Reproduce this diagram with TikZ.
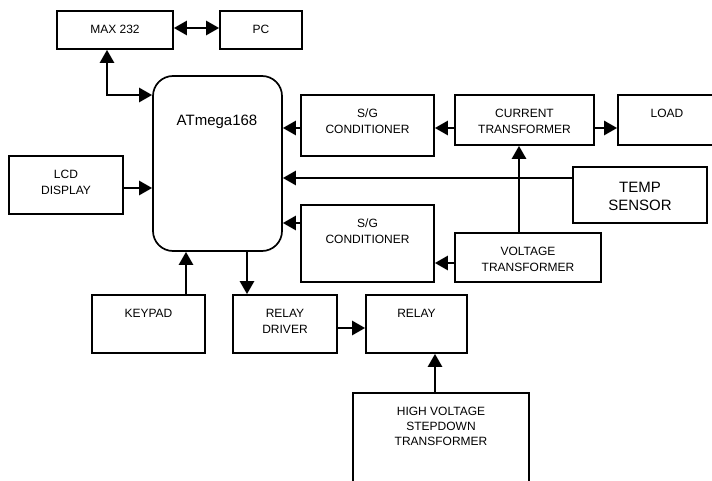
\documentclass[tikz,border=0pt]{standalone}
\usepackage{fontspec}
\setmainfont{Liberation Sans}
\usetikzlibrary{arrows.meta}
\begin{document}
\begin{tikzpicture}[x=1pt,y=-1pt,
  box/.style={draw,line width=1.7pt,minimum width=#1,inner sep=0pt},
  lbl/.style={align=center,font=\fontsize{12}{16}\selectfont,inner sep=0pt},
  big/.style={align=center,font=\fontsize{15}{18}\selectfont,inner sep=0pt},
  conn/.style={line width=2.6pt,-{Triangle[length=13pt,width=14pt]}},
  conn2/.style={line width=2.6pt,{Triangle[length=13pt,width=14pt]}-{Triangle[length=13pt,width=14pt]}}]
\useasboundingbox (0,0) rectangle (712,481);
\clip (0,0) rectangle (712,481);
% boxes
\node[box=116pt,minimum height=38pt] (max) at (115,30) {};
\node[lbl] (maxT) at (115,29) {MAX 232};
\node[box=82pt,minimum height=38pt] (pc) at (261,30) {};
\node[lbl] (pcT) at (261,29) {PC};
\node[box=129pt,minimum height=175pt,rounded corners=20pt] (at) at (217.5,163.5) {};
\node[big] (atT) at (217,122) {ATmega168};
\node[box=114pt,minimum height=58pt] (lcd) at (66,185) {};
\node[lbl] (lcdT) at (66,182.5) {LCD\\DISPLAY};
\node[box=133pt,minimum height=61pt] (sg1) at (367.5,125.5) {};
\node[lbl] (sg1T) at (367.5,121) {S/G\\CONDITIONER};
\node[box=139pt,minimum height=50pt] (ct) at (524.5,120) {};
\node[lbl] (ctT) at (524.5,121) {CURRENT\\TRANSFORMER};
\node[box=102pt,minimum height=50pt] (load) at (669,120) {};
\node[lbl] (loadT) at (667,113) {LOAD};
\node[box=134pt,minimum height=56pt] (temp) at (640,195) {};
\node[big] (tempT) at (640,196) {TEMP\\SENSOR};
\node[box=133pt,minimum height=77pt] (sg2) at (367.5,243.5) {};
\node[lbl] (sg2T) at (367.5,231) {S/G\\CONDITIONER};
\node[box=146pt,minimum height=49pt] (vt) at (528,257.5) {};
\node[lbl] (vtT) at (528,259.5) {VOLTAGE\\TRANSFORMER};
\node[box=113pt,minimum height=58pt] (key) at (148.5,324) {};
\node[lbl] (keyT) at (148.5,313) {KEYPAD};
\node[box=104pt,minimum height=58pt] (rd) at (285,324) {};
\node[lbl] (rdT) at (285,321) {RELAY\\DRIVER};
\node[box=101pt,minimum height=58pt] (relay) at (416.5,324) {};
\node[lbl] (relayT) at (416.5,313) {RELAY};
\node[box=176pt,minimum height=106pt] (hv) at (441,446) {};
\node[lbl,font=\fontsize{12}{15}\selectfont] (hvT) at (441,426) {HIGH VOLTAGE\\STEPDOWN\\TRANSFORMER};
% connectors
\draw[conn2] (max.east |- 0,28) -- (pc.west |- 0,28);
\draw[conn2] (max.south -| 107,0) |- (at.west |- 0,95);
\draw[conn] (lcd.east |- 0,188) -- (at.west |- 0,188);
\draw[conn] (sg1.west |- 0,128) -- (at.east |- 0,128);
\draw[conn] (ct.west |- 0,128) -- (sg1.east |- 0,128);
\draw[conn] (ct.east |- 0,128) -- (load.west |- 0,128);
\draw[conn] (temp.west |- 0,178) -- (at.east |- 0,178);
\draw[conn] (sg2.west |- 0,223) -- (at.east |- 0,223);
\draw[conn] (vt.west |- 0,263) -- (sg2.east |- 0,263);
\draw[conn] (vt.north -| 519,0) -- (ct.south -| 519,0);
\draw[conn] (key.north -| 186,0) -- (at.south -| 186,0);
\draw[conn] (at.south -| 247,0) -- (rd.north -| 247,0);
\draw[conn] (rd.east |- 0,328) -- (relay.west |- 0,328);
\draw[conn] (hv.north -| 435,0) -- (relay.south -| 435,0);
\end{tikzpicture}
\end{document}
